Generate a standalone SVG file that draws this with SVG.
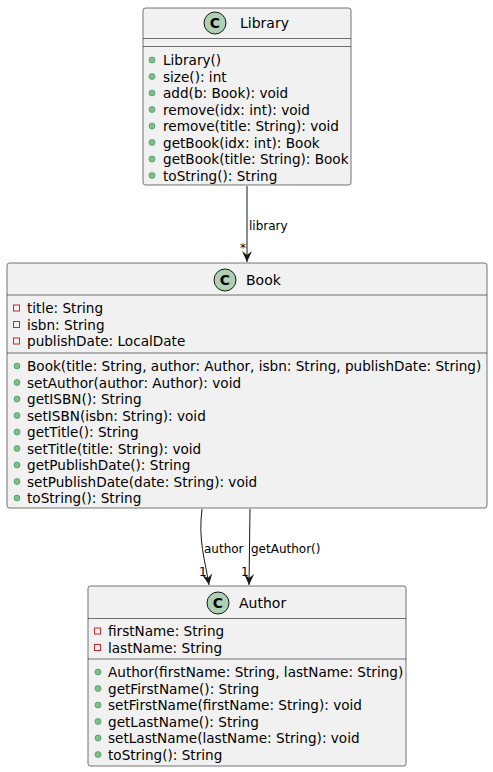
<svg xmlns="http://www.w3.org/2000/svg" width="493" height="772" viewBox="0 0 493 772">
<defs>
<style>
.box{fill:#F1F1F1;stroke:#181818;stroke-width:0.6}
.sep{stroke:#181818;stroke-width:0.6}
.t{font-family:"DejaVu Sans","Liberation Sans",sans-serif;font-size:13.6px;fill:#000}
.title{font-family:"DejaVu Sans","Liberation Sans",sans-serif;font-size:14px;fill:#000}
.lbl{font-family:"DejaVu Sans","Liberation Sans",sans-serif;font-size:12px;fill:#000}
.ci{fill:#ADD1B2;stroke:#181818;stroke-width:1}
.ct{font-family:"DejaVu Sans","Liberation Sans",sans-serif;font-size:14px;font-weight:bold;fill:#000}
.pub{fill:#84BE84;stroke:#038048;stroke-width:0.5}
.priv{fill:none;stroke:#C82930;stroke-width:1}
.edge{fill:none;stroke:#181818;stroke-width:1}
</style>
<marker id="arr" viewBox="0 0 12 12" refX="11" refY="6" markerWidth="12" markerHeight="12" markerUnits="userSpaceOnUse" orient="auto">
<path d="M0,1 L11,6 L0,11 L4,6 Z" fill="#181818"/>
</marker>
</defs>
<g id="connectors">
<line class="edge" x1="247" y1="186" x2="247" y2="262" marker-end="url(#arr)"/>
<text class="lbl" x="249" y="230">library</text>
<text class="lbl" x="240" y="252">*</text>
<path class="edge" d="M202,509 C198,540 205,560 209,585" marker-end="url(#arr)"/>
<text class="lbl" x="204" y="553">author</text>
<text class="lbl" x="199" y="576">1</text>
<line class="edge" x1="250" y1="509" x2="249" y2="585" marker-end="url(#arr)"/>
<text class="lbl" x="251" y="553">getAuthor()</text>
<text class="lbl" x="241" y="576">1</text>
</g>
<g id="Library">
<rect class="box" x="143" y="8" width="208" height="177" rx="2.5"/>
<circle class="ci" cx="215" cy="23" r="11"/>
<text class="ct" x="215" y="28" text-anchor="middle">C</text>
<text class="title" x="240" y="28">Library</text>
<line class="sep" x1="143" y1="38.5" x2="351" y2="38.5"/>
<line class="sep" x1="143" y1="46.5" x2="351" y2="46.5"/>
<circle class="pub" cx="152" cy="60" r="3"/><text class="t" x="163" y="65">Library()</text>
<circle class="pub" cx="152" cy="76.5" r="3"/><text class="t" x="163" y="81.5">size(): int</text>
<circle class="pub" cx="152" cy="93" r="3"/><text class="t" x="163" y="98">add(b: Book): void</text>
<circle class="pub" cx="152" cy="109.5" r="3"/><text class="t" x="163" y="114.5">remove(idx: int): void</text>
<circle class="pub" cx="152" cy="126" r="3"/><text class="t" x="163" y="131">remove(title: String): void</text>
<circle class="pub" cx="152" cy="142.5" r="3"/><text class="t" x="163" y="147.5">getBook(idx: int): Book</text>
<circle class="pub" cx="152" cy="159" r="3"/><text class="t" x="163" y="164">getBook(title: String): Book</text>
<circle class="pub" cx="152" cy="175.5" r="3"/><text class="t" x="163" y="180.5">toString(): String</text>
</g>
<g id="Book">
<rect class="box" x="7" y="263" width="480" height="245" rx="2.5"/>
<circle class="ci" cx="225" cy="280" r="11"/>
<text class="ct" x="225" y="285" text-anchor="middle">C</text>
<text class="title" x="246" y="285">Book</text>
<line class="sep" x1="7" y1="295" x2="487" y2="295"/>
<rect class="priv" x="13.5" y="305" width="6" height="6"/><text class="t" x="27" y="313">title: String</text>
<rect class="priv" x="13.5" y="321.5" width="6" height="6"/><text class="t" x="27" y="329.5">isbn: String</text>
<rect class="priv" x="13.5" y="338" width="6" height="6"/><text class="t" x="27" y="346">publishDate: LocalDate</text>
<line class="sep" x1="7" y1="353" x2="487" y2="353"/>
<circle class="pub" cx="17" cy="366" r="3"/><text class="t" x="27" y="371">Book(title: String, author: Author, isbn: String, publishDate: String)</text>
<circle class="pub" cx="17" cy="382.5" r="3"/><text class="t" x="27" y="387.5">setAuthor(author: Author): void</text>
<circle class="pub" cx="17" cy="399" r="3"/><text class="t" x="27" y="404">getISBN(): String</text>
<circle class="pub" cx="17" cy="415.5" r="3"/><text class="t" x="27" y="420.5">setISBN(isbn: String): void</text>
<circle class="pub" cx="17" cy="432" r="3"/><text class="t" x="27" y="437">getTitle(): String</text>
<circle class="pub" cx="17" cy="448.5" r="3"/><text class="t" x="27" y="453.5">setTitle(title: String): void</text>
<circle class="pub" cx="17" cy="465" r="3"/><text class="t" x="27" y="470">getPublishDate(): String</text>
<circle class="pub" cx="17" cy="481.5" r="3"/><text class="t" x="27" y="486.5">setPublishDate(date: String): void</text>
<circle class="pub" cx="17" cy="498" r="3"/><text class="t" x="27" y="503">toString(): String</text>
</g>
<g id="Author">
<rect class="box" x="88" y="586" width="318" height="180" rx="2.5"/>
<circle class="ci" cx="218" cy="603" r="11"/>
<text class="ct" x="218" y="608" text-anchor="middle">C</text>
<text class="title" x="239" y="608">Author</text>
<line class="sep" x1="88" y1="618.5" x2="406" y2="618.5"/>
<rect class="priv" x="94.5" y="628" width="6" height="6"/><text class="t" x="108" y="636">firstName: String</text>
<rect class="priv" x="94.5" y="644.5" width="6" height="6"/><text class="t" x="108" y="652.5">lastName: String</text>
<line class="sep" x1="88" y1="659" x2="406" y2="659"/>
<circle class="pub" cx="98" cy="672" r="3"/><text class="t" x="108" y="677">Author(firstName: String, lastName: String)</text>
<circle class="pub" cx="98" cy="688.5" r="3"/><text class="t" x="108" y="693.5">getFirstName(): String</text>
<circle class="pub" cx="98" cy="705" r="3"/><text class="t" x="108" y="710">setFirstName(firstName: String): void</text>
<circle class="pub" cx="98" cy="721.5" r="3"/><text class="t" x="108" y="726.5">getLastName(): String</text>
<circle class="pub" cx="98" cy="738" r="3"/><text class="t" x="108" y="743">setLastName(lastName: String): void</text>
<circle class="pub" cx="98" cy="754.5" r="3"/><text class="t" x="108" y="759.5">toString(): String</text>
</g>
</svg>
